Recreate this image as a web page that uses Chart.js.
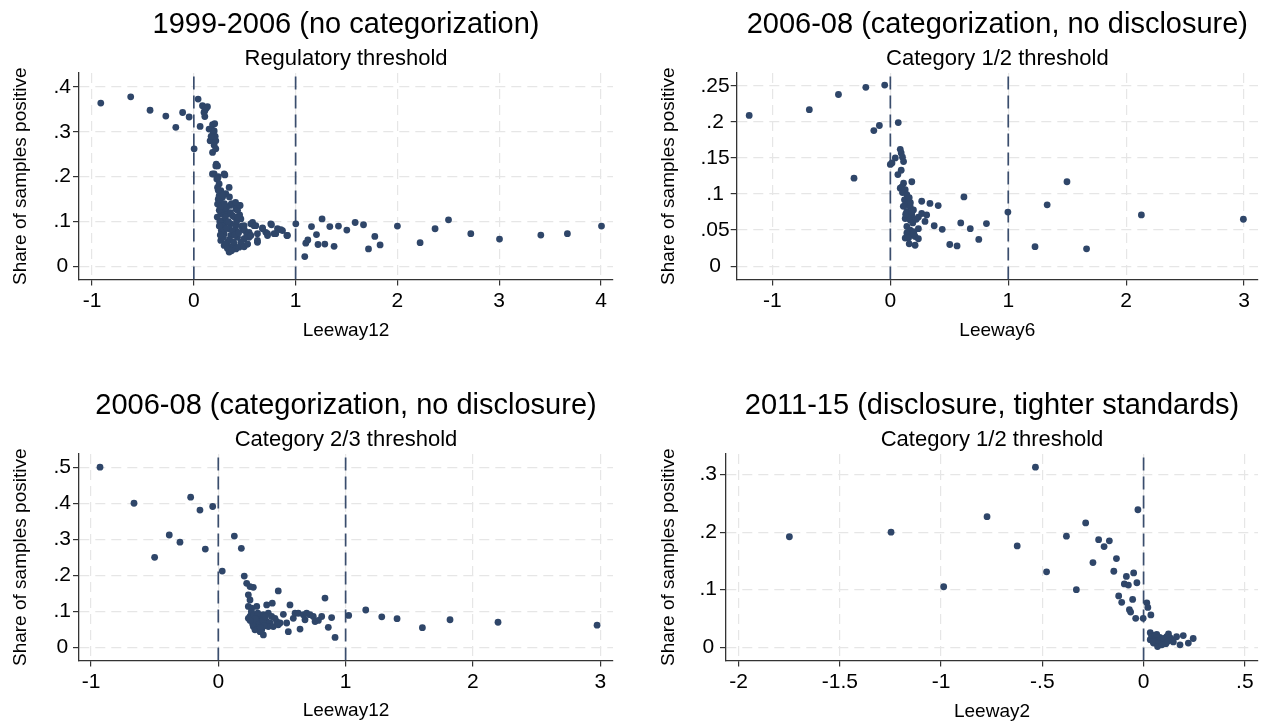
<!DOCTYPE html>
<html>
<head>
<meta charset="utf-8">
<script src="https://cdn.jsdelivr.net/npm/chart.js@4.4.0/dist/chart.umd.min.js"></script>
<style>
  html, body { margin: 0; padding: 0; background: #fff; }
  #wrap { position: relative; width: 1262px; height: 721px; overflow: hidden; }
  .panel { position: absolute; width: 631px; height: 381px; }
</style>
</head>
<body>
<div id="wrap">
  <div class="panel" style="left:0;top:0"><canvas id="c1"></canvas></div>
  <div class="panel" style="left:631px;top:0"><canvas id="c2"></canvas></div>
  <div class="panel" style="left:0;top:381px"><canvas id="c3"></canvas></div>
  <div class="panel" style="left:631px;top:381px"><canvas id="c4"></canvas></div>
</div>
<script>
// ---- data: [leeway, share of samples positive] ----
const p1Points = [
  [-0.914,0.364],[-0.62,0.378],[-0.43,0.348],[-0.275,0.335],[-0.11,0.343],[-0.177,0.31],[-0.046,0.333],
  [0.003,0.262],[0.042,0.373],[0.062,0.312],[0.085,0.358],[0.108,0.347],[0.134,0.356],[0.108,0.334],
  [0.12,0.352],[0.1,0.343],[0.15,0.306],[0.184,0.316],[0.2,0.302],[0.16,0.28],[0.216,0.28],[0.184,0.254],
  [0.216,0.262],[0.19,0.296],[0.21,0.29],[0.2,0.27],[0.17,0.29],[0.205,0.318],[0.216,0.224],[0.2,0.206],
  [0.233,0.195],[0.305,0.204],[0.347,0.176],[0.249,0.184],[0.22,0.228],[0.24,0.2],
  [0.233,0.224],[0.183,0.206],[0.298,0.206],[0.226,0.195],[0.233,0.176],[0.265,0.169],[0.249,0.158],
  [0.282,0.154],[0.314,0.162],[0.233,0.139],[0.259,0.132],[0.292,0.136],[0.357,0.136],[0.396,0.139],
  [0.445,0.136],[0.413,0.128],[0.298,0.124],[0.265,0.117],[0.331,0.117],[0.38,0.113],[0.462,0.106],
  [0.282,0.102],[0.314,0.098],[0.363,0.095],[0.413,0.091],[0.298,0.087],[0.347,0.084],[0.413,0.08],
  [0.478,0.084],[0.56,0.095],[0.592,0.091],[0.675,0.086],[0.756,0.095],[0.822,0.084],[0.871,0.08],
  [0.92,0.069],[0.625,0.073],[0.707,0.076],[0.724,0.069],[0.789,0.073],[0.298,0.073],[0.363,0.069],
  [0.429,0.065],[0.494,0.062],[0.543,0.065],[0.265,0.058],[0.331,0.054],[0.396,0.05],[0.462,0.054],
  [0.527,0.05],[0.625,0.054],[0.363,0.043],[0.413,0.039],[0.298,0.047],[0.347,0.032],[0.445,0.043],
  [0.494,0.044],[0.24,0.15],[0.26,0.145],[0.25,0.125],[0.27,0.135],[0.23,0.11],[0.255,0.1],[0.28,0.09],
  [0.31,0.11],[0.32,0.13],[0.3,0.14],[0.27,0.08],[0.29,0.065],[0.32,0.085],[0.34,0.1],[0.36,0.12],
  [0.38,0.08],[0.4,0.07],[0.35,0.06],[0.25,0.09],[0.26,0.07],[0.31,0.05],[0.33,0.04],[0.37,0.035],
  [0.39,0.055],[0.42,0.1],[0.44,0.075],[0.47,0.09],[0.5,0.08],[0.52,0.07],[0.45,0.115],[0.43,0.125],
  [0.4,0.11],[0.37,0.14],[0.28,0.16],[0.24,0.17],[0.35,0.155],
  [0.41,0.143],[0.455,0.136],[0.435,0.11],[0.494,0.091],[0.577,0.098],[0.609,0.091],[0.543,0.076],
  [0.56,0.069],[0.625,0.058],[0.527,0.05],[0.675,0.084],[0.724,0.073],[0.763,0.093],[0.805,0.073],
  [0.855,0.082],[0.914,0.069],[1.002,0.095],
  [1.09,0.022],[1.1,0.052],[1.12,0.059],[1.156,0.089],[1.205,0.071],[1.22,0.049],[1.26,0.106],
  [1.287,0.05],[1.336,0.089],[1.378,0.045],[1.421,0.09],[1.503,0.081],[1.585,0.098],[1.667,0.093],
  [1.716,0.039],[1.778,0.067],[1.83,0.048],[2.0,0.09],[2.223,0.053],[2.37,0.084],[2.502,0.104],
  [2.721,0.073],[3.003,0.061],[3.409,0.07],[3.67,0.073],[4.005,0.09]
];
const p2Points = [
  [-1.197,0.209],[-0.687,0.217],[-0.44,0.238],[-0.208,0.248],[-0.048,0.251],[-0.308,0.122],
  [-0.14,0.188],[-0.093,0.195],[0.067,0.199],[0,0.141],[0.084,0.162],[0.092,0.157],[0.103,0.151],
  [0.112,0.145],[0.042,0.15],[0.014,0.143],[0.092,0.133],[0.064,0.127],[0.182,0.117],
  [0.112,0.115],[0.098,0.11],[0.084,0.108],[0.126,0.106],[0.103,0.102],[0.14,0.099],[0.12,0.092],
  [0.154,0.09],[0.126,0.085],[0.168,0.083],[0.196,0.078],[0.266,0.09],[0.336,0.087],[0.406,0.084],
  [0.624,0.096],[0.14,0.076],[0.182,0.071],[0.238,0.068],[0.266,0.073],[0.308,0.071],[0.126,0.066],
  [0.168,0.064],[0.294,0.062],[0.372,0.056],[0.44,0.051],[0.597,0.06],[0.678,0.052],[0.75,0.037],
  [0.815,0.059],[0.14,0.055],[0.168,0.05],[0.14,0.046],[0.182,0.043],[0.21,0.041],[0.238,0.038],
  [0.154,0.039],[0.126,0.039],[0.16,0.031],[0.21,0.029],[0.504,0.03],[0.566,0.028],[0.238,0.052],
  [0.196,0.048],[0.15,0.07],[0.17,0.088],[0.19,0.06],[0.2,0.045],[0.13,0.072],[0.16,0.095],
  [0.22,0.065],[0.11,0.083],[0.145,0.04],[0.18,0.075],
  [0.997,0.075],[1.227,0.027],[1.33,0.085],[1.498,0.117],[1.664,0.024],[2.129,0.071],[2.994,0.065]
];
const p3Points = [
  [-0.929,0.5],[-0.662,0.4],[-0.385,0.312],[-0.5,0.25],[-0.301,0.292],[-0.217,0.417],[-0.144,0.381],
  [-0.102,0.273],[-0.044,0.391],[0.031,0.212],[0.126,0.309],[0.181,0.275],[0.204,0.198],[0.223,0.178],
  [0.249,0.169],[0.275,0.167],[0.236,0.146],[0.249,0.132],[0.471,0.157],[0.236,0.114],[0.262,0.109],
  [0.302,0.114],[0.38,0.118],[0.424,0.123],[0.563,0.118],[0.838,0.137],
  [0.249,0.086],[0.275,0.077],[0.302,0.081],[0.328,0.086],[0.354,0.091],[0.393,0.095],[0.419,0.086],
  [0.445,0.081],[0.288,0.068],[0.314,0.063],[0.341,0.068],[0.38,0.072],[0.406,0.068],[0.459,0.072],
  [0.485,0.068],[0.511,0.092],[0.603,0.095],[0.628,0.095],[0.668,0.091],[0.694,0.095],[0.72,0.091],
  [0.746,0.086],[0.812,0.086],[0.89,0.083],[0.589,0.081],[0.537,0.068],[0.681,0.077],[0.76,0.072],
  [0.786,0.075],[0.302,0.054],[0.328,0.044],[0.354,0.035],[0.341,0.049],[0.393,0.058],[0.432,0.058],
  [0.471,0.063],[0.55,0.044],[0.642,0.051],[0.864,0.056],[0.917,0.028],[0.262,0.095],[0.236,0.081],
  [0.275,0.058],[0.288,0.049],[0.26,0.1],[0.28,0.09],[0.3,0.075],[0.32,0.07],[0.27,0.065],[0.31,0.095],
  [0.35,0.075],[0.36,0.06],[0.29,0.08],[0.33,0.055],[0.25,0.075],[0.37,0.085],
  [1.024,0.089],[1.158,0.104],[1.284,0.085],[1.404,0.08],[1.603,0.055],[1.82,0.077],[2.197,0.07],
  [2.975,0.062]
];
const p4Points = [
  [-1.749,0.192],[-1.247,0.2],[-0.987,0.105],[-0.534,0.313],[-0.773,0.227],[-0.624,0.176],
  [-0.479,0.131],[-0.332,0.1],[-0.381,0.193],[-0.286,0.216],[-0.222,0.187],[-0.169,0.185],
  [-0.195,0.175],[-0.25,0.147],[-0.134,0.154],[-0.147,0.132],[-0.085,0.123],[-0.095,0.11],
  [-0.075,0.108],[-0.049,0.129],[-0.033,0.112],[-0.123,0.089],[-0.108,0.078],[-0.054,0.083],
  [-0.07,0.065],[-0.064,0.061],[-0.039,0.05],[-0.002,0.05],[-0.028,0.239],[0.016,0.077],
  [0.021,0.069],[0.036,0.056],
  [0.033,0.025],[0.041,0.021],[0.049,0.016],[0.057,0.013],[0.065,0.01],[0.073,0.006],[0.082,0.01],
  [0.09,0.013],[0.098,0.008],[0.106,0.011],[0.114,0.018],[0.123,0.023],[0.131,0.016],[0.139,0.013],
  [0.147,0.009],[0.163,0.018],[0.18,0.004],[0.196,0.02],[0.221,0.007],[0.245,0.015],[0.033,0.013],
  [0.049,0.007],[0.069,0.001],[0.09,0.004],[0.04,0.018],[0.055,0.02],[0.06,0.015],[0.07,0.012],
  [0.08,0.017],[0.1,0.015],[0.11,0.006],[0.045,0.01],[0.065,0.022],[0.12,0.01]
];

const p1Thresholds = [0, 1];
const p2Thresholds = [0, 1];
const p3Thresholds = [0, 1];
const p4Thresholds = [0];

const p1XTicks = [-1, 0, 1, 2, 3, 4];
const p1YTicks = [0, 0.1, 0.2, 0.3, 0.4];
const p2XTicks = [-1, 0, 1, 2, 3];
const p2YTicks = [0, 0.05, 0.1, 0.15, 0.2, 0.25];
const p3XTicks = [-1, 0, 1, 2, 3];
const p3YTicks = [0, 0.1, 0.2, 0.3, 0.4, 0.5];
const p4XTicks = [-2, -1.5, -1, -0.5, 0, 0.5];
const p4YTicks = [0, 0.1, 0.2, 0.3];

const FONT = '"Liberation Sans", Arial, Helvetica, sans-serif';
const DOT = '#2f4669';

// Stata style labels: .4, -.5, 0
function stataLabel(v) {
  return String(v).replace(/^(-?)0\./, '$1.');
}

function makePanel(id, o) {
  const datasets = [{
    data: o.points.map(p => ({ x: p[0], y: p[1] })),
    backgroundColor: DOT,
    borderWidth: 0,
    pointRadius: 3.4,
    order: 0
  }];
  o.thresholds.forEach(t => {
    datasets.push({
      data: [{ x: t, y: o.yMin }, { x: t, y: o.yMax }],
      showLine: true,
      borderColor: '#3a4d6d',
      borderWidth: 1.7,
      borderDash: [13, 6],
      pointRadius: 0,
      order: 1
    });
  });

  const grid = { color: '#e6e6e6', lineWidth: 1.2, tickColor: '#333', tickLength: 6, tickWidth: 1.2 };
  const border = { color: '#333', width: 1.3, dash: [10, 6] };

  new Chart(document.getElementById(id), {
    type: 'scatter',
    data: { datasets },
    options: {
      responsive: true,
      maintainAspectRatio: false,
      animation: false,
      layout: { padding: { left: 0, right: o.rightPad, top: 0, bottom: 0 } },
      plugins: {
        legend: { display: false },
        tooltip: { enabled: false },
        title: {
          display: true,
          text: o.title,
          fullSize: false,
          color: '#000',
          font: { family: FONT, size: 29, weight: 'normal', lineHeight: 1.2 },
          padding: { top: 7.6, bottom: 0 }
        },
        subtitle: {
          display: true,
          text: o.subtitle,
          fullSize: false,
          color: '#000',
          font: { family: FONT, size: 22, weight: 'normal', lineHeight: 1.2 },
          padding: { top: 3.4, bottom: 0.8 }
        }
      },
      scales: {
        x: {
          type: 'linear',
          min: o.xMin,
          max: o.xMax,
          afterBuildTicks: s => { s.ticks = o.xTicks.map(v => ({ value: v })); },
          afterFit: s => { s.height = 101.5; },
          ticks: {
            color: '#000', font: { family: FONT, size: 21 }, padding: 3,
            autoSkip: false, maxRotation: 0, callback: v => stataLabel(v)
          },
          grid, border,
          title: {
            display: true, text: o.xLabel, color: '#000',
            font: { family: FONT, size: 19, lineHeight: 1.2 },
            padding: { top: 0, bottom: o.xTitlePad }
          }
        },
        y: {
          type: 'linear',
          min: o.yMin,
          max: o.yMax,
          afterBuildTicks: s => { s.ticks = o.yTicks.map(v => ({ value: v })); },
          afterFit: s => { s.width = o.yWidth; },
          ticks: {
            color: '#000', font: { family: FONT, size: 21 }, padding: o.yTickPad,
            crossAlign: 'center', autoSkip: false, callback: v => stataLabel(v)
          },
          grid, border,
          title: {
            display: true, text: 'Share of samples positive', color: '#000',
            font: { family: FONT, size: 19, lineHeight: 1.2 },
            padding: { top: o.yTitlePad, bottom: 0 }
          }
        }
      }
    }
  });
}

makePanel('c1', {
  points: p1Points, thresholds: p1Thresholds, xTicks: p1XTicks, yTicks: p1YTicks,
  xMin: -1.128, xMax: 4.118, yMin: -0.029, yMax: 0.431,
  title: '1999-2006 (no categorization)', subtitle: 'Regulatory threshold', xLabel: 'Leeway12',
  yWidth: 79, rightPad: 18, yTitlePad: 9.5, xTitlePad: 39, yTickPad: 2
});
makePanel('c2', {
  points: p2Points, thresholds: p2Thresholds, xTicks: p2XTicks, yTicks: p2YTicks,
  xMin: -1.303, xMax: 3.118, yMin: -0.0185, yMax: 0.2678,
  title: '2006-08 (categorization, no disclosure)', subtitle: 'Category 1/2 threshold', xLabel: 'Leeway6',
  yWidth: 105.7, rightPad: 0, yTitlePad: 26.5, xTitlePad: 39, yTickPad: 1
});
makePanel('c3', {
  points: p3Points, thresholds: p3Thresholds, xTicks: p3XTicks, yTicks: p3YTicks,
  xMin: -1.094, xMax: 3.1, yMin: -0.036, yMax: 0.5366,
  title: '2006-08 (categorization, no disclosure)', subtitle: 'Category 2/3 threshold', xLabel: 'Leeway12',
  yWidth: 79, rightPad: 18, yTitlePad: 9.5, xTitlePad: 39.6, yTickPad: 2
});
makePanel('c4', {
  points: p4Points, thresholds: p4Thresholds, xTicks: p4XTicks, yTicks: p4YTicks,
  xMin: -2.062, xMax: 0.565, yMin: -0.0233, yMax: 0.336,
  title: '2011-15 (disclosure, tighter standards)', subtitle: 'Category 1/2 threshold', xLabel: 'Leeway2',
  yWidth: 95, rightPad: 0, yTitlePad: 26.5, xTitlePad: 38.6, yTickPad: 3
});
</script>
</body>
</html>
